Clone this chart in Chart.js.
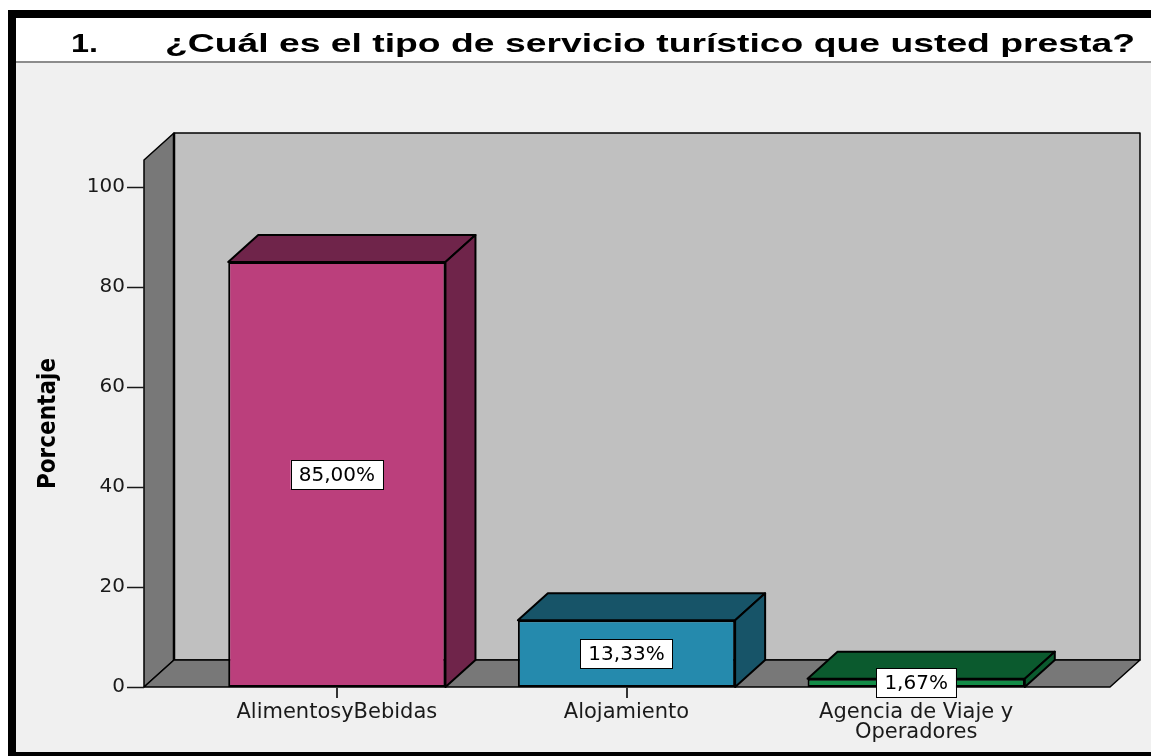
<!DOCTYPE html>
<html lang="es">
<head>
<meta charset="utf-8">
<title>Tipo de servicio turístico</title>
<style>
  html, body { margin: 0; padding: 0; background: #fff; }
  #chartBox { width: 1151px; height: 756px; }
</style>
</head>
<body>
<div id="chartBox"><canvas id="servicioChart" width="1151" height="756"></canvas></div>
<script src="https://cdn.jsdelivr.net/npm/chart.js"></script>
<script>
'use strict';
//****************************
//DATA
//****************************
var categories = ['AlimentosyBebidas', 'Alojamiento', ['Agencia de Viaje y', 'Operadores']];
var percentages = [85.00, 13.33, 1.67];
var yTicks = [0, 20, 40, 60, 80, 100];
var titleNumber = '1.';
var titleText = '¿Cuál es el tipo de servicio turístico que usted presta?';
var yTitle = 'Porcentaje';

//****************************
//STYLE
//****************************
var frontColors = ['#bb3f7c', '#258aad', '#138c47'];
var shadeColors = ['#6f244a', '#175468', '#0b5a2e'];
var DEPTH_X = 30;
var DEPTH_Y = 27;
var FONT = '"DejaVu Sans", Arial, sans-serif';

function pctText(v) {
  return v.toFixed(2).replace('.', ',') + '%';
}

function poly(ctx, pts, fill) {
  ctx.beginPath();
  ctx.moveTo(pts[0][0], pts[0][1]);
  for (var i = 1; i < pts.length; i++) {
    ctx.lineTo(pts[i][0], pts[i][1]);
  }
  ctx.closePath();
  ctx.fillStyle = fill;
  ctx.fill();
  ctx.stroke();
}

// draws text stretched to a given width (the original is a stretched bitmap)
function wideText(ctx, txt, x, y, width) {
  var k = width / ctx.measureText(txt).width;
  ctx.save();
  ctx.translate(x, y);
  ctx.scale(k, 1);
  ctx.fillText(txt, 0, 0);
  ctx.restore();
}

var box3d = {
  id: 'box3d',
  beforeDraw: function(chart) {
    var ctx = chart.ctx;
    var w = chart.width;
    ctx.save();
    ctx.fillStyle = '#ffffff';
    ctx.fillRect(0, 0, w, chart.height);
    // frame
    ctx.fillStyle = '#000000';
    ctx.fillRect(8, 10, w - 8, 8);
    ctx.fillRect(8, 10, 8, chart.height - 10);
    ctx.fillRect(8, 752, w - 8, 4);
    ctx.fillStyle = '#8c8c8c';
    ctx.fillRect(16, 61, w - 16, 2);
    ctx.fillStyle = '#f0f0f0';
    ctx.fillRect(16, 63, w - 16, 689);
    // title
    ctx.fillStyle = '#000000';
    ctx.font = 'bold 26px "Liberation Sans", Arial, sans-serif';
    ctx.textBaseline = 'alphabetic';
    ctx.textAlign = 'left';
    wideText(ctx, titleNumber, 71, 52, 27);
    wideText(ctx, titleText, 165, 52, 970);
    ctx.restore();
  },
  beforeDatasetsDraw: function(chart) {
    var ctx = chart.ctx;
    var area = chart.chartArea;
    var yScale = chart.scales.y;
    var xScale = chart.scales.x;
    var y0 = yScale.getPixelForValue(0);
    var yTop = yScale.getPixelForValue(yScale.max);
    var left = area.left - 48;
    var right = area.right + 49;

    ctx.save();
    ctx.strokeStyle = '#000000';
    ctx.lineWidth = 1.5;
    ctx.lineJoin = 'round';
    // back wall
    poly(ctx, [[left + DEPTH_X, yTop - DEPTH_Y], [right + DEPTH_X, yTop - DEPTH_Y],
      [right + DEPTH_X, y0 - DEPTH_Y], [left + DEPTH_X, y0 - DEPTH_Y]], '#c0c0c0');
    // left wall
    poly(ctx, [[left, yTop], [left + DEPTH_X, yTop - DEPTH_Y],
      [left + DEPTH_X, y0 - DEPTH_Y], [left, y0]], '#787878');
    // floor
    poly(ctx, [[left, y0], [left + DEPTH_X, y0 - DEPTH_Y],
      [right + DEPTH_X, y0 - DEPTH_Y], [right, y0]], '#787878');
    ctx.lineWidth = 2.5;
    ctx.beginPath();
    ctx.moveTo(left + DEPTH_X, yTop - DEPTH_Y);
    ctx.lineTo(left + DEPTH_X, y0 - DEPTH_Y);
    ctx.stroke();

    // y tick marks
    ctx.lineWidth = 1.5;
    ctx.strokeStyle = '#1a1a1a';
    yTicks.forEach(function(v) {
      var py = Math.round(yScale.getPixelForValue(v)) + 0.5;
      ctx.beginPath();
      ctx.moveTo(left - 17, py);
      ctx.lineTo(left, py);
      ctx.stroke();
    });
    // x tick marks
    ctx.lineWidth = 2;
    ctx.strokeStyle = '#333333';
    categories.forEach(function(c, i) {
      var px = Math.round(xScale.getPixelForValue(i));
      ctx.beginPath();
      ctx.moveTo(px, y0);
      ctx.lineTo(px, y0 + 11);
      ctx.stroke();
    });

    // top and side faces of the bars
    ctx.strokeStyle = '#000000';
    ctx.lineWidth = 2;
    var meta = chart.getDatasetMeta(0);
    meta.data.forEach(function(bar, i) {
      var p = bar.getProps(['x', 'y', 'base', 'width'], true);
      var x0 = p.x - p.width / 2;
      var x1 = p.x + p.width / 2;
      poly(ctx, [[x0, p.y], [x0 + DEPTH_X, p.y - DEPTH_Y],
        [x1 + DEPTH_X, p.y - DEPTH_Y], [x1, p.y]], shadeColors[i]);
      poly(ctx, [[x1, p.y], [x1 + DEPTH_X, p.y - DEPTH_Y],
        [x1 + DEPTH_X, p.base - DEPTH_Y], [x1, p.base]], shadeColors[i]);
    });
    ctx.restore();
  },
  afterDatasetsDraw: function(chart) {
    var ctx = chart.ctx;
    var meta = chart.getDatasetMeta(0);
    ctx.save();
    ctx.font = '20px ' + FONT;
    ctx.textAlign = 'center';
    ctx.textBaseline = 'middle';
    meta.data.forEach(function(bar, i) {
      var p = bar.getProps(['x', 'y', 'base'], true);
      var txt = pctText(percentages[i]);
      var cy = (p.y + p.base) / 2;
      var bw = ctx.measureText(txt).width + 16;
      var bh = 29;
      ctx.fillStyle = '#ffffff';
      ctx.fillRect(p.x - bw / 2, cy - bh / 2, bw, bh);
      ctx.strokeStyle = '#000000';
      ctx.lineWidth = 1;
      ctx.strokeRect(Math.round(p.x - bw / 2) + 0.5, Math.round(cy - bh / 2) + 0.5, Math.round(bw), bh);
      ctx.fillStyle = '#000000';
      ctx.fillText(txt, p.x, cy + 1);
    });
    ctx.restore();
  }
};

var ctx = document.getElementById('servicioChart').getContext('2d');
var chart = new Chart(ctx, {
  type: 'bar',
  data: {
    labels: categories,
    datasets: [{
      data: percentages,
      backgroundColor: frontColors,
      borderColor: '#000000',
      borderWidth: 2,
      borderSkipped: false,
      barPercentage: 0.75,
      categoryPercentage: 1
    }]
  },
  options: {
    responsive: false,
    devicePixelRatio: 1,
    animation: false,
    layout: { padding: { left: 0, right: 90, top: 160, bottom: 0 } },
    plugins: {
      legend: { display: false },
      tooltip: { enabled: false },
      title: { display: false }
    },
    scales: {
      x: {
        type: 'category',
        offset: true,
        grid: { display: false, drawTicks: false },
        border: { display: false },
        ticks: {
          color: '#1a1a1a',
          font: { family: FONT, size: 21, lineHeight: 0.95 },
          padding: 16,
          maxRotation: 0,
          autoSkip: false
        },
        afterFit: function(scale) { scale.height = 69; }
      },
      y: {
        min: 0,
        max: 105.4,
        grid: { display: false, drawTicks: false },
        border: { display: false },
        afterBuildTicks: function(scale) {
          scale.ticks = yTicks.map(function(v) { return { value: v }; });
        },
        ticks: {
          color: '#1a1a1a',
          font: { family: FONT, size: 20 },
          padding: 67
        },
        title: {
          display: true,
          text: yTitle,
          color: '#000000',
          font: { family: '"DejaVu Sans Condensed", "Liberation Sans Narrow", Arial, sans-serif', size: 24, weight: 'bold' },
          padding: { top: 34, bottom: 0 }
        },
        afterFit: function(scale) {
          scale.width = 192;
          // the large label padding must not push the plot area up
          scale.paddingTop = 0;
          scale.paddingBottom = 0;
        }
      }
    }
  },
  plugins: [box3d]
});
</script>
</body>
</html>
